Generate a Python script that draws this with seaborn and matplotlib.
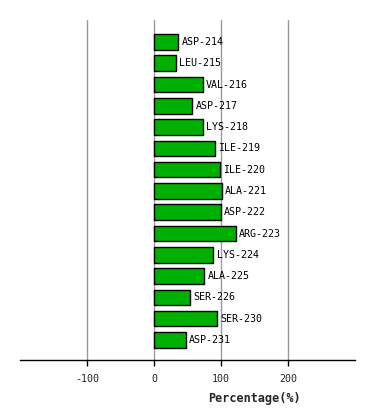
import matplotlib
matplotlib.use("Agg")
import matplotlib.pyplot as plt
import seaborn as sns
import pandas as pd

residues = ['ASP-214', 'LEU-215', 'VAL-216', 'ASP-217', 'LYS-218', 'ILE-219', 'ILE-220',
            'ALA-221', 'ASP-222', 'ARG-223', 'LYS-224', 'ALA-225', 'SER-226', 'SER-230', 'ASP-231']
percent = [36.4, 32.4, 72.4, 57.4, 72.4, 90.3, 98.3, 101.3, 99.3, 122.3, 88.8, 75.3, 54.4, 93.8, 47.4]
xticks = [-100, 0, 100, 200]

df = pd.DataFrame({'residue': residues, 'percent': percent})

sns.set_style("white")
plt.rcParams['font.family'] = ['DejaVu Sans Mono', 'DejaVu Sans']

fig = plt.figure(figsize=(3.74, 4.2), dpi=100)
ax = fig.add_axes([20 / 374, 60 / 420, 335 / 374, 340 / 420])

sns.barplot(data=df, y='residue', x='percent', orient='h', color='#00b000',
            edgecolor='black', linewidth=1, width=0.73, saturation=1, ax=ax, zorder=3)

# residue name just right of each bar
for i, (name, v) in enumerate(zip(residues, percent)):
    ax.text(v + 5, i, name, va='center', ha='left', fontsize=7.2, color='black', zorder=4)

ax.set_xlim(-200, 300)
ax.set_ylim(14.94, -1.03)
ax.set_xticks(xticks)
ax.set_xticklabels([str(t) for t in xticks], fontsize=7.2)
ax.set_yticks([])
ax.set_ylabel('')
ax.grid(axis='x', color='#999999', linewidth=1, zorder=0)
ax.set_axisbelow(True)
for s in ['left', 'right', 'top']:
    ax.spines[s].set_visible(False)
ax.spines['bottom'].set_color('black')
ax.spines['bottom'].set_linewidth(1)
ax.tick_params(axis='x', length=4, width=1, color='black', direction='out', pad=6, bottom=True)
ax.set_xlabel('Percentage(%)', fontsize=8.5, fontweight='bold')
ax.xaxis.set_label_coords((254 - 20) / 335, -0.095)

fig.savefig('out.png', dpi=100)
